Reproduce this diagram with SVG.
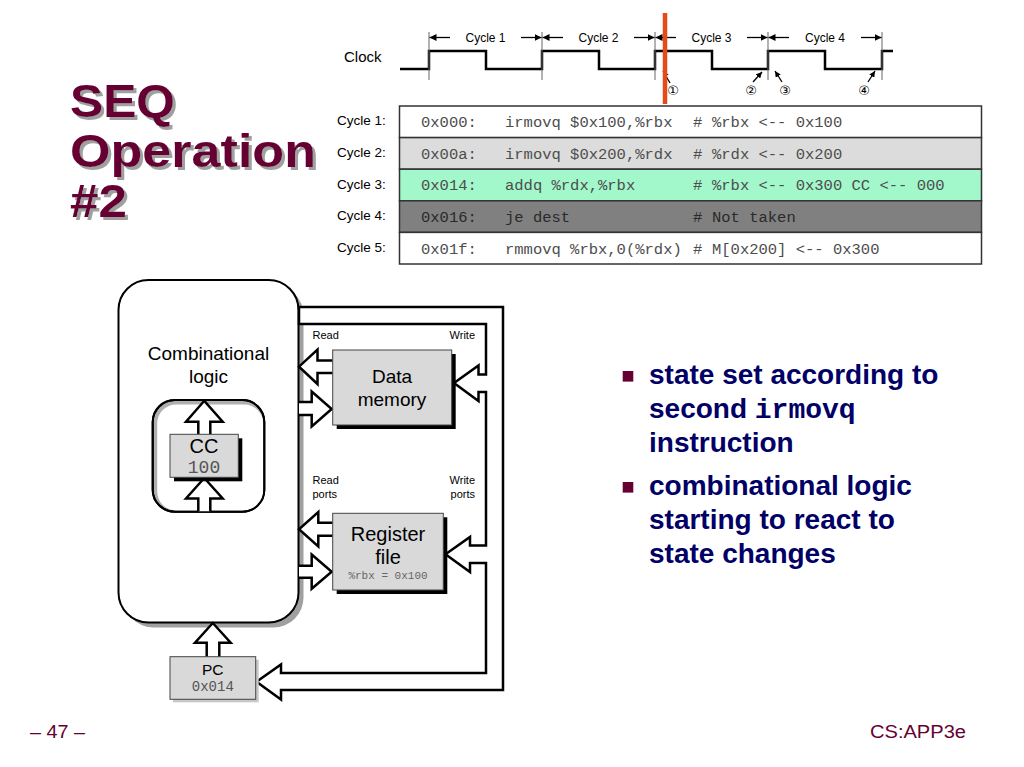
<svg xmlns="http://www.w3.org/2000/svg" width="1024" height="767" viewBox="0 0 1024 767">
<defs>
<style>
.sans{font-family:"Liberation Sans",Arial,sans-serif}
.mono{font-family:"Liberation Mono","Courier New",monospace}
.title{font-family:"Liberation Sans",Arial,sans-serif;font-weight:bold;font-size:47px;fill:#660033}
.code{font-family:"Liberation Mono","Courier New",monospace;font-size:15.5px;fill:#4d4d4d}
.cyc{font-family:"Liberation Sans",Arial,sans-serif;font-size:13.5px;fill:#000}
.bul{font-family:"Liberation Sans",Arial,sans-serif;font-weight:bold;font-size:28px;fill:#000066}
.box{fill:#d9d9d9;stroke:#444;stroke-width:1}
.pipe{fill:#fff;stroke:#000;stroke-width:2.5;stroke-linejoin:miter}
.tick{stroke:#666;stroke-width:1}
.harrow{stroke:#000;stroke-width:1.3;marker-end:url(#ah)}
.sarrow{stroke:#000;stroke-width:1.3;marker-end:url(#ah2)}
</style>
<filter id="tshadow" x="-10%" y="-10%" width="130%" height="140%">
<feDropShadow dx="3" dy="3" stdDeviation="0.4" flood-color="#a0a0a0" flood-opacity="1"/>
</filter>
<marker id="ah" viewBox="0 0 10 10" refX="10" refY="5" markerWidth="7" markerHeight="7" markerUnits="userSpaceOnUse" orient="auto"><path d="M0,0 L10,5 L0,10 z" fill="#000"/></marker>
<marker id="ah2" viewBox="0 0 10 10" refX="10" refY="5" markerWidth="6" markerHeight="6" markerUnits="userSpaceOnUse" orient="auto"><path d="M0,0 L10,5 L0,10 z" fill="#000"/></marker>
</defs>
<rect width="1024" height="767" fill="#fff"/>

<g id="title" filter="url(#tshadow)">
<text class="title" x="70" y="117" textLength="105" lengthAdjust="spacingAndGlyphs">SEQ</text>
<text class="title" x="70" y="167" textLength="246" lengthAdjust="spacingAndGlyphs">Operation</text>
<text class="title" x="70" y="217" textLength="57" lengthAdjust="spacingAndGlyphs">#2</text>
</g>

<g id="clock">
<text class="sans" x="344" y="62" font-size="15">Clock</text>
<path d="M400 69 H429 V51 H486 V69 H542 V51 H599 V69 H655 V51 H712 V69 H768 V51 H825 V69 H882 V51 H893" fill="none" stroke="#000" stroke-width="2.5"/>
<g class="tick">
<line x1="429" y1="32" x2="429" y2="80"/><line x1="542" y1="32" x2="542" y2="80"/><line x1="655" y1="32" x2="655" y2="80"/><line x1="768" y1="32" x2="768" y2="80"/><line x1="882" y1="32" x2="882" y2="80"/>
</g>
<g>
<line class="harrow" x1="450" y1="37.5" x2="429.5" y2="37.5"/><line class="harrow" x1="521" y1="37.5" x2="541.5" y2="37.5"/>
<line class="harrow" x1="563" y1="37.5" x2="542.5" y2="37.5"/><line class="harrow" x1="634" y1="37.5" x2="654.5" y2="37.5"/>
<line class="harrow" x1="676" y1="37.5" x2="655.5" y2="37.5"/><line class="harrow" x1="747" y1="37.5" x2="767.5" y2="37.5"/>
<line class="harrow" x1="789" y1="37.5" x2="768.5" y2="37.5"/><line class="harrow" x1="861" y1="37.5" x2="881.5" y2="37.5"/>
</g>
<g class="sans" font-size="12" text-anchor="middle">
<text x="485.5" y="42">Cycle 1</text><text x="598.5" y="42">Cycle 2</text><text x="711.5" y="42">Cycle 3</text><text x="825" y="42">Cycle 4</text>
</g>
<line class="sarrow" x1="670" y1="83" x2="663" y2="71"/>
<line class="sarrow" x1="753" y1="82" x2="762" y2="72"/>
<line class="sarrow" x1="782" y1="82" x2="775" y2="71"/>
<line class="sarrow" x1="868" y1="82" x2="875" y2="71"/>
<g font-family="'DejaVu Sans','Noto Sans CJK JP',sans-serif" font-size="13" text-anchor="middle">
<text x="673" y="95">①</text><text x="751" y="95">②</text><text x="785" y="95">③</text><text x="864" y="95">④</text>
</g>
</g>

<g id="program">
<rect x="399.5" y="106" width="582" height="31.6" fill="#fff" stroke="#333" stroke-width="1.5"/>
<rect x="399.5" y="137.6" width="582" height="31.6" fill="#dcdcdc" stroke="#333" stroke-width="1.5"/>
<rect x="399.5" y="169.2" width="582" height="31.6" fill="#a2f7cb" stroke="#333" stroke-width="1.5"/>
<rect x="399.5" y="200.8" width="582" height="31.6" fill="#808080" stroke="#333" stroke-width="1.5"/>
<rect x="399.5" y="232.4" width="582" height="31.6" fill="#fff" stroke="#333" stroke-width="1.5"/>
<g class="cyc">
<text x="337" y="125">Cycle 1:</text><text x="337" y="157">Cycle 2:</text><text x="337" y="189">Cycle 3:</text><text x="337" y="220">Cycle 4:</text><text x="337" y="252">Cycle 5:</text>
</g>
<g class="code">
<text x="421" y="127">0x000:</text><text x="505" y="127">irmovq $0x100,%rbx</text><text x="693" y="127">#</text><text x="712" y="127">%rbx &lt;-- 0x100</text>
<text x="421" y="158.5">0x00a:</text><text x="505" y="158.5">irmovq $0x200,%rdx</text><text x="693" y="158.5">#</text><text x="712" y="158.5">%rdx &lt;-- 0x200</text>
<text x="421" y="190">0x014:</text><text x="505" y="190">addq %rdx,%rbx</text><text x="693" y="190">#</text><text x="712" y="190">%rbx &lt;-- 0x300 CC &lt;-- 000</text>
<text x="421" y="222" fill="#2a2a2a">0x016:</text><text x="505" y="222" fill="#2a2a2a">je dest</text><text x="693" y="222" fill="#2a2a2a">#</text><text x="712" y="222" fill="#2a2a2a">Not taken</text>
<text x="421" y="253.5">0x01f:</text><text x="505" y="253.5">rmmovq %rbx,0(%rdx)</text><text x="693" y="253.5">#</text><text x="712" y="253.5">M[0x200] &lt;-- 0x300</text>
</g>
</g>

<line id="timeline" x1="665" y1="13" x2="665" y2="104" stroke="#e64a19" stroke-width="4.5"/>

<g id="comb-logic">
<rect x="123.5" y="285" width="180" height="342.5" rx="30" fill="#a0a0a0"/>
<rect x="118.5" y="280" width="180" height="342.5" rx="30" fill="#fff" stroke="#000" stroke-width="2"/>
<text class="sans" x="208.5" y="360" font-size="19" text-anchor="middle">Combinational</text>
<text class="sans" x="208.5" y="383" font-size="19" text-anchor="middle">logic</text>
</g>

<g id="connectors">
<path class="pipe" d="M299 307 H503 V690 H281 V699.5 L256.5 681.7 L281 664.5 V673 H486 V563 H470 V572 L445.5 554.3 L470 537 V545.5 H486 V392 H478.5 V401 L454 383 L478.5 365.5 V374.5 H486 V324 H299 Z"/>
<path class="pipe" d="M332.7 360.5 H317.5 V349.5 L299 366.7 L317.5 384 V373 H332.7"/>
<path class="pipe" d="M299 402 H311.7 V391.5 L331.7 409 L311.7 426.5 V415 H299"/>
<path class="pipe" d="M332.7 522.7 H318.3 V512 L299 529.3 L318.3 546.5 V535.7 H332.7"/>
<path class="pipe" d="M299 565.7 H311.7 V554.5 L331.7 571.7 L311.7 588.7 V577.7 H299"/>
<path class="pipe" d="M206.7 656.7 V642.7 H195 L212.8 623 L230.7 642.7 H219.3 V656.7"/>
<g class="sans" font-size="11">
<text x="312.5" y="339">Read</text><text x="475" y="339" text-anchor="end">Write</text>
<text x="312.5" y="484">Read</text><text x="312.5" y="497.5">ports</text>
<text x="475" y="484" text-anchor="end">Write</text><text x="475" y="497.5" text-anchor="end">ports</text>
</g>
</g>

<g id="cc">
<rect x="152.7" y="400" width="111.6" height="111.7" rx="22" fill="#b0b0b0" stroke="#000" stroke-width="2"/>
<rect x="157.2" y="404.5" width="106" height="106" rx="19" fill="#fff"/>
<rect x="152.7" y="400" width="111.6" height="111.7" rx="22" fill="none" stroke="#000" stroke-width="2"/>
<path class="pipe" d="M198.3 434.3 V421.7 H186 L204.3 400.8 L222.7 421.7 H210.3 V434.3"/>
<path class="pipe" d="M198.3 511.2 V498.5 H186 L204.3 478 L222.7 498.5 H210.3 V511.2"/>
<rect x="174" y="438.3" width="68.3" height="43" fill="#000"/>
<rect class="box" x="170" y="434.3" width="68.3" height="43"/>
<text class="sans" x="204" y="452.5" font-size="20" text-anchor="middle">CC</text>
<text class="mono" x="204" y="473" font-size="18" fill="#555" text-anchor="middle">100</text>
</g>

<g id="data-memory">
<rect x="336.7" y="354" width="119" height="75" fill="#000"/>
<rect class="box" x="332.7" y="350" width="119" height="75"/>
<text class="sans" x="392" y="383" font-size="19" text-anchor="middle">Data</text>
<text class="sans" x="392" y="406" font-size="19" text-anchor="middle">memory</text>
</g>

<g id="register-file">
<rect x="336.7" y="517.3" width="110.6" height="76.7" fill="#000"/>
<rect class="box" x="332.7" y="513.3" width="110.6" height="76.7"/>
<text class="sans" x="388" y="540.5" font-size="20" text-anchor="middle">Register</text>
<text class="sans" x="388" y="563.5" font-size="20" text-anchor="middle">file</text>
<text class="mono" x="388" y="579" font-size="11" fill="#666" text-anchor="middle">%rbx = 0x100</text>
</g>

<g id="pc">
<rect x="173" y="659.7" width="85.7" height="42.6" fill="#c8c8c8"/>
<rect class="box" x="170" y="656.7" width="85.7" height="42.6"/>
<text class="sans" x="212.8" y="675" font-size="15.5" text-anchor="middle">PC</text>
<text class="mono" x="212.8" y="691" font-size="14" fill="#555" text-anchor="middle">0x014</text>
</g>

<g id="bullets">
<rect x="622.7" y="371" width="10.6" height="10.6" fill="#660033"/>
<rect x="622.7" y="482" width="10.6" height="10.6" fill="#660033"/>
<text class="bul" x="649" y="383.5">state set according to</text>
<text class="bul" x="649" y="417.5">second <tspan font-family="'Liberation Mono','Courier New',monospace">irmovq</tspan></text>
<text class="bul" x="649" y="451.5">instruction</text>
<text class="bul" x="649" y="494.5">combinational logic</text>
<text class="bul" x="649" y="528.5">starting to react to</text>
<text class="bul" x="649" y="562.5">state changes</text>
</g>

<g id="footer" class="sans" font-size="18" fill="#660033">
<text x="30" y="738" textLength="55" lengthAdjust="spacingAndGlyphs">– 47 –</text>
<text x="870" y="738" textLength="96" lengthAdjust="spacingAndGlyphs">CS:APP3e</text>
</g>
</svg>
